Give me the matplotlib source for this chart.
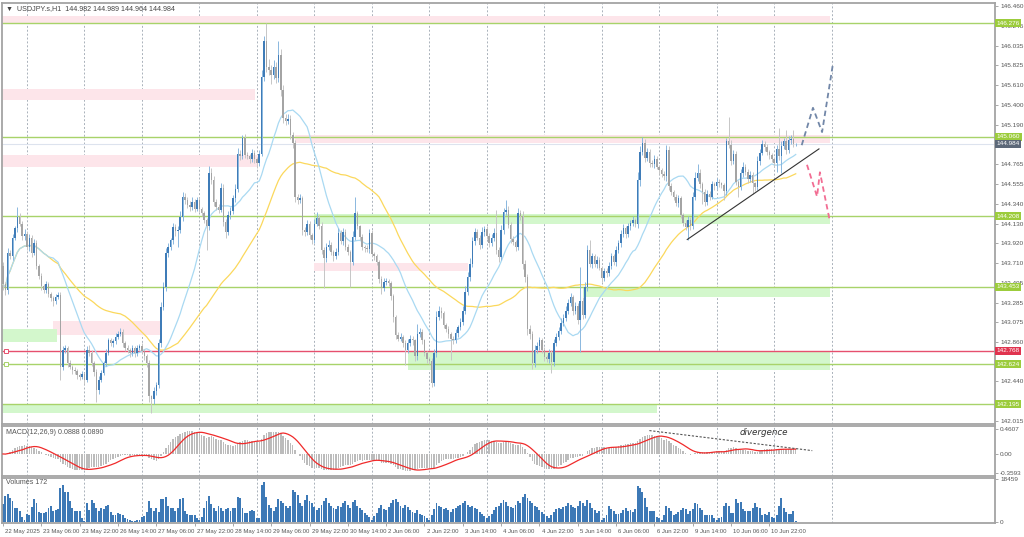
import matplotlib
matplotlib.use("Agg")
import matplotlib.pyplot as plt
import matplotlib.transforms as mtransforms
from matplotlib import font_manager
import numpy as np
import pandas as pd

# USDJPY H1, one value per hourly bar (22 May 14:00 .. 11 Jun 09:00)
first_open = 143.68
closes = [
    143.48, 143.42, 143.82, 143.78, 143.98, 144.08, 144.20, 144.13, 144.00, 144.02, 143.88, 143.98,
    143.82, 143.92, 143.68, 143.57, 143.46, 143.42, 143.48, 143.38, 143.33, 143.30, 143.34, 143.37,
    142.60, 142.78, 142.80, 142.64, 142.60, 142.56, 142.55, 142.51, 142.49, 142.52, 142.46, 142.78,
    142.75, 142.64, 142.54, 142.35, 142.46, 142.53, 142.64, 142.75, 142.88, 142.85, 142.87, 142.92,
    142.95, 142.97, 142.85, 142.80, 142.78, 142.74, 142.80, 142.74, 142.80, 142.82, 142.77, 142.71,
    142.64, 142.28, 142.25, 142.34, 142.40, 142.85, 143.24, 143.45, 143.82, 143.88, 143.95, 144.09,
    144.05, 144.06, 144.20, 144.42, 144.38, 144.33, 144.31, 144.36, 144.29, 144.38, 144.29, 144.24,
    144.17, 144.10, 144.67, 144.60, 144.36, 144.31, 144.28, 144.51, 144.15, 144.04, 144.22, 144.26,
    144.40, 144.50, 144.88, 144.85, 145.05, 144.87, 144.85, 144.82, 144.89, 144.82, 144.78, 144.88,
    145.70, 146.08, 145.81, 145.77, 145.72, 145.81, 145.69, 145.94, 145.56, 145.26, 145.23, 145.25,
    145.08, 144.99, 144.42, 144.38, 144.40, 144.06, 144.04, 144.13, 144.01, 143.96, 144.13, 144.19,
    144.11, 143.85, 143.76, 143.88, 143.90, 143.83, 143.78, 143.83, 144.03, 143.94, 144.04, 143.88,
    143.83, 143.72, 143.99, 144.24, 144.10, 143.99, 143.88, 143.87, 143.86, 144.03, 143.81, 143.78,
    143.72, 143.54, 143.44, 143.51, 143.52, 143.49, 143.35, 143.13, 142.94, 142.90, 142.92, 142.85,
    142.78, 142.85, 142.90, 142.88, 142.71, 142.95, 142.97, 142.88, 142.74, 142.68, 142.66, 142.42,
    142.74, 143.13, 143.20, 143.17, 143.05, 143.00, 142.95, 142.90, 142.88, 142.96, 143.02, 143.08,
    143.20, 143.40, 143.56, 143.70, 143.94, 144.04, 143.98, 143.90, 144.04, 144.07, 144.00, 143.92,
    143.98, 144.03, 143.85, 143.77, 144.06, 144.25, 144.28, 144.12, 143.97, 143.93, 143.88, 144.24,
    144.21, 143.70, 143.56, 143.00, 142.95, 142.64, 142.78, 142.82, 142.88, 142.78, 142.70, 142.68,
    142.75, 142.65, 142.85, 142.92, 142.98, 143.07, 143.12, 143.20, 143.28, 143.34, 143.20, 143.25,
    143.10, 143.30, 143.15, 143.45, 143.85, 143.70, 143.78, 143.70, 143.74, 143.66, 143.55, 143.62,
    143.60, 143.68, 143.78, 143.72, 143.85, 143.92, 144.02, 144.08, 144.02, 144.10, 144.14, 144.17,
    144.13, 144.60, 144.90, 144.99, 144.83, 144.90, 144.78, 144.77, 144.82, 144.74, 144.70, 144.66,
    144.64, 144.92, 144.53, 144.47, 144.42, 144.35, 144.40, 144.22, 144.14, 144.09, 144.17, 144.10,
    144.42, 144.62, 144.67, 144.55, 144.47, 144.36, 144.45, 144.42, 144.55, 144.53, 144.58, 144.56,
    144.54, 144.48, 145.01, 144.97, 144.80, 144.88, 144.58, 144.52, 144.67, 144.74, 144.68, 144.61,
    144.65, 144.56, 144.52, 144.80, 144.89, 144.98, 144.95, 144.90, 144.86, 144.82, 144.78, 144.93,
    144.85, 144.96, 145.01, 144.92, 145.02, 145.04, 144.98, 144.984,
]
# wick lengths above / below the body, in 0.01 yen
wick_up = [
    4, 3, 5, 3, 4, 3, 11, 4, 3, 5, 3, 4,
    3, 5, 3, 2, 3, 2, 4, 3, 2, 3, 4, 3,
    3, 4, 3, 2, 3, 2, 3, 2, 2, 3, 1, 4,
    5, 3, 2, 3, 4, 3, 2, 4, 3, 3, 2, 4,
    3, 4, 3, 2, 3, 2, 3, 2, 3, 2, 3, 2,
    2, 3, 2, 4, 3, 4, 5, 6, 5, 4, 3, 5,
    4, 5, 6, 5, 4, 3, 4, 5, 3, 4, 3, 2,
    3, 2, 8, 6, 4, 3, 3, 5, 4, 3, 4, 5,
    4, 5, 6, 4, 3, 4, 3, 3, 4, 3, 2, 4,
    8, 6, 20, 8, 6, 7, 5, 14, 6, 5, 4, 5,
    4, 3, 4, 3, 5, 3, 3, 4, 3, 2, 5, 6,
    3, 4, 3, 4, 5, 3, 2, 4, 5, 3, 4, 3,
    3, 2, 6, 17, 3, 2, 3, 2, 3, 4, 3, 2,
    3, 2, 3, 4, 3, 2, 3, 3, 2, 3, 4, 2,
    3, 4, 4, 3, 2, 11, 4, 3, 2, 3, 2, 3,
    5, 6, 5, 4, 3, 2, 3, 2, 3, 4, 3, 4,
    5, 6, 5, 6, 5, 4, 3, 3, 5, 4, 3, 3,
    4, 5, 25, 3, 6, 5, 10, 4, 3, 3, 2, 6,
    4, 5, 4, 3, 4, 3, 5, 4, 4, 3, 3, 2,
    4, 3, 5, 4, 4, 5, 4, 5, 4, 5, 3, 4,
    3, 37, 4, 6, 5, 10, 4, 3, 4, 3, 2, 3,
    3, 4, 4, 3, 4, 3, 4, 5, 3, 4, 3, 4,
    2, 8, 6, 7, 5, 4, 3, 3, 4, 3, 2, 3,
    3, 5, 4, 3, 2, 3, 4, 3, 2, 3, 4, 3,
    5, 6, 10, 4, 3, 3, 4, 3, 4, 3, 4, 3,
    2, 3, 4, 26, 5, 4, 3, 2, 4, 5, 3, 3,
    4, 3, 2, 5, 4, 4, 3, 3, 2, 3, 2, 4,
    22, 5, 4, 12, 5, 4, 9, 1,
]
wick_dn = [
    6, 5, 4, 3, 4, 3, 4, 3, 5, 4, 3, 4,
    5, 3, 4, 3, 4, 3, 3, 4, 3, 5, 3, 2,
    14, 4, 3, 5, 3, 4, 3, 4, 3, 2, 5, 3,
    4, 3, 4, 13, 4, 3, 2, 3, 3, 3, 4, 3,
    3, 2, 4, 3, 3, 4, 3, 4, 3, 2, 3, 4,
    4, 6, 15, 5, 4, 3, 4, 3, 4, 5, 3, 4,
    5, 17, 3, 4, 4, 3, 4, 3, 4, 3, 4, 3,
    3, 25, 4, 5, 4, 3, 4, 3, 4, 6, 3, 4,
    3, 4, 3, 4, 3, 4, 3, 4, 3, 4, 5, 3,
    3, 4, 6, 5, 10, 4, 5, 4, 6, 5, 4, 3,
    4, 5, 6, 4, 3, 5, 4, 3, 4, 5, 4, 3,
    4, 5, 32, 4, 3, 4, 5, 3, 4, 3, 4, 3,
    4, 27, 3, 4, 3, 4, 3, 4, 3, 4, 3, 4,
    3, 5, 6, 3, 4, 3, 4, 5, 4, 3, 3, 4,
    16, 4, 3, 5, 5, 4, 3, 4, 3, 4, 3, 4,
    3, 4, 3, 5, 4, 3, 4, 23, 4, 3, 4, 3,
    3, 4, 3, 4, 3, 4, 3, 4, 3, 4, 3, 4,
    3, 4, 4, 5, 3, 4, 3, 4, 5, 3, 4, 3,
    4, 6, 5, 6, 5, 7, 4, 3, 4, 3, 4, 3,
    4, 12, 4, 3, 4, 3, 4, 3, 4, 3, 5, 4,
    4, 34, 4, 3, 4, 3, 4, 3, 4, 3, 4, 3,
    4, 3, 4, 3, 4, 3, 4, 3, 4, 3, 4, 3,
    4, 5, 7, 3, 4, 3, 4, 3, 4, 3, 4, 3,
    4, 5, 4, 3, 4, 3, 4, 3, 4, 3, 13, 4,
    3, 4, 3, 4, 13, 4, 3, 4, 3, 4, 3, 4,
    3, 10, 4, 3, 4, 3, 4, 10, 3, 4, 3, 4,
    3, 11, 4, 3, 4, 3, 4, 3, 4, 3, 4, 10,
    4, 18, 3, 4, 3, 4, 3, 2,
]
volumes = [
    7700, 11200, 12100, 10500, 9100, 6000, 6000, 4600, 2100, 700, 3500, 2800,
    6300, 9800, 8400, 4200, 3800, 3800, 4200, 6000, 7000, 4900, 5200, 5600,
    14900, 16000, 13200, 12900, 9100, 6000, 4600, 4900, 4900, 1800, 400, 8400,
    5200, 9400, 8400, 6000, 4600, 6000, 5600, 7000, 7400, 4200, 3200, 2800,
    3800, 3500, 2800, 1800, 1300, 700, 400, 300, 700, 1000, 2100, 2400,
    4200, 9100, 6000, 4900, 6000, 4200, 9800, 9800, 10800, 7000, 6000, 6000,
    4900, 6000, 9800, 10200, 4600, 3500, 3200, 2800, 2800, 1800, 1000, 2100,
    6000, 9100, 11200, 7900, 6000, 4900, 7000, 6000, 4600, 5600, 6000, 4600,
    6000, 6000, 10800, 10200, 6000, 3800, 3800, 4600, 5200, 4600, 1500, 1800,
    16000, 17200, 10800, 7400, 6000, 4600, 6600, 9800, 9100, 8400, 7000, 6000,
    7000, 13900, 12900, 11500, 8400, 7000, 9500, 11500, 9000, 8000, 6500, 5000,
    6000, 7500, 9000, 10500, 8000, 7000, 6000, 5500, 7000, 6500, 8000, 9000,
    7500, 6000, 8500, 9500, 7000, 6000, 5000, 4000, 3000, 2000, 1000, 2500,
    4000, 6000, 7500, 5500, 5000, 6500, 8000, 9500, 10000, 8500, 7000, 6000,
    7500, 6500, 5000, 4500, 4000, 5000, 3500, 3000, 2500, 1500, 800, 3000,
    5500, 8000, 7000, 6500, 5500, 6000, 5000, 4500, 5500, 6000, 7000, 7500,
    8000, 9000, 7500, 6500, 7000, 6000, 5500, 4500, 3500, 2500, 1500, 2500,
    3500, 5000, 6500, 7000, 8000, 9500, 8500, 7000, 6500, 6000, 7500, 9000,
    8000, 11000, 12000, 10500, 9000, 8000, 7000, 6500, 5000, 4500, 3500, 2500,
    1500, 3000, 4500, 5500, 6000, 5500, 6500, 7000, 8000, 7500, 6500, 6000,
    7000, 9000, 8000, 7000, 9500, 8000, 6000, 5000, 4000, 4900, 700, 1800,
    2800, 7000, 5600, 4900, 3500, 3500, 3800, 5200, 6000, 4900, 5200, 4200,
    5600, 15700, 14600, 13200, 10200, 6600, 4900, 4600, 4900, 2100, 1500, 700,
    3200, 7000, 6000, 4600, 3200, 3500, 4200, 5200, 6000, 5600, 3500, 4900,
    5600, 8400, 7700, 6000, 5200, 2800, 3200, 2800, 3200, 1500, 1000, 1800,
    2100, 7000, 8400, 7000, 3800, 3800, 9800, 8400, 8800, 5600, 4600, 4600,
    4900, 6000, 8400, 6300, 6000, 2800, 3500, 2800, 4200, 2100, 1500, 3200,
    7000, 10200, 6000, 4200, 3500, 3500, 4600, 172,
]

tick_labels = [
    "22 May 2025", "23 May 06:00", "23 May 22:00", "26 May 14:00", "27 May 06:00",
    "27 May 22:00", "28 May 14:00", "29 May 06:00", "29 May 22:00", "30 May 14:00",
    "2 Jun 06:00", "2 Jun 22:00", "3 Jun 14:00", "4 Jun 06:00", "4 Jun 22:00",
    "5 Jun 14:00", "6 Jun 06:00", "6 Jun 22:00", "9 Jun 14:00", "10 Jun 06:00",
    "10 Jun 22:00",
]
price_ticks = [146.460, 146.245, 146.035, 145.825, 145.610, 145.400, 145.190, 144.975,
               144.765, 144.555, 144.340, 144.130, 143.920, 143.710, 143.495, 143.285,
               143.075, 142.860, 142.650, 142.440, 142.225, 142.015]
# these scale labels sit fully under a price tag in the terminal
hidden_ticks = [144.975, 142.650, 142.225]

levels = [146.276, 145.060, 144.208, 143.453, 142.768, 142.624, 142.195]
level_kinds = ["g", "g", "g", "g", "r", "g", "g"]
current_price = 144.984

# drawn zones: bar from, bar to, price low, price high, kind
zone_x0 = [-1, -1, -1, 122, 130, 130, 242, 21, -1, 169, -1]
zone_x1 = [345.3, 105.2, 106.5, 345.3, 345.3, 194, 345.3, 65.6, 22.5, 345.3, 273]
zone_lo = [146.27, 145.45, 144.74, 144.99, 144.13, 143.62, 143.34, 142.94, 142.86, 142.56, 142.10]
zone_hi = [146.35, 145.57, 144.87, 145.08, 144.23, 143.71, 143.45, 143.09, 143.00, 142.76, 142.19]
zone_kind = ["p", "p", "p", "p", "g", "p", "g", "p", "g", "g", "g"]

trend_x = [285.7, 340.7]
trend_y = [143.96, 144.93]
up_path_x = [333.5, 338.2, 342.0, 346.6]
up_path_y = [144.97, 145.37, 145.11, 145.85]
down_path_x = [335.7, 339.9, 341.1, 345.3]
down_path_y = [144.76, 144.42, 144.68, 144.15]
div_x = [269.9, 337.9]
div_y = [0.435, 0.062]

GREEN_LINE = "#a8d36a"
GREEN_TAG = "#9ccc3c"
RED_LINE = "#e6506e"
GRID = "#a9b1ba"
FRAME = "#a4a4a4"


def pick_font():
    # narrow face if the system has it, else a smaller regular face
    try:
        font_manager.findfont("Liberation Sans Narrow", fallback_to_default=False)
        return ["Liberation Sans Narrow", "DejaVu Sans"], 5.2, 5.0
    except ValueError:
        return ["Liberation Sans", "DejaVu Sans"], 4.6, 4.3


FONT, FS, FSX = pick_font()


def style_axis(ax):
    for s in ax.spines.values():
        s.set_color(FRAME)
        s.set_linewidth(1.3)
    ax.yaxis.tick_right()
    ax.tick_params(axis="y", length=2.5, width=0.6, colors="#9a9a9a",
                   labelcolor="#555555", labelsize=FS, pad=1.2)
    ax.tick_params(axis="x", length=0, labelbottom=False)
    ax.set_xlim(-0.4, 414.2)
    for d in range(10, 347, 24):
        ax.axvline(d, color=GRID, lw=0.7, ls=(0, (2, 2)), zorder=0)


def tag(ax, y, text, bg):
    tr = mtransforms.blended_transform_factory(ax.transAxes, ax.transData)
    ax.text(1.0016, y, text, transform=tr, ha="left", va="center", fontsize=FS,
            family=FONT, color="white", zorder=10, clip_on=False,
            bbox=dict(boxstyle="square,pad=0.25", fc=bg, ec=bg, lw=0))


def main():
    n = len(closes)
    x = np.arange(n)
    c = np.array(closes)
    o = np.concatenate([[first_open], c[:-1]])
    hi = np.maximum(o, c) + np.array(wick_up) / 100
    lo = np.minimum(o, c) - np.array(wick_dn) / 100
    bull = c >= o

    s = pd.Series(c)
    ma_fast = s.rolling(20, min_periods=1).mean()
    ma_slow = s.rolling(50, min_periods=1).mean()
    macd = s.ewm(span=12, adjust=False).mean() - s.ewm(span=26, adjust=False).mean()
    signal = macd.rolling(9, min_periods=1).mean()

    fig = plt.figure(figsize=(10.24, 5.37), dpi=100)
    W, H = 1024, 537
    left, right = 2 / W, 995 / W
    ax = fig.add_axes([left, 1 - 424 / H, right - left, 421 / H])
    ax_m = fig.add_axes([left, 1 - 476 / H, right - left, 50 / H])
    ax_v = fig.add_axes([left, 1 - 523 / H, right - left, 45 / H])

    # ---- price panel
    style_axis(ax)
    ax.set_ylim(141.985, 146.492)
    ax.set_yticks(price_ticks)
    ax.set_yticklabels(["" if p in hidden_ticks else f"{p:.3f}" for p in price_ticks],
                       family=FONT)

    for i in range(len(zone_x0)):
        col = "#fde5ea" if zone_kind[i] == "p" else "#d3f7cc"
        ax.fill_between([zone_x0[i], zone_x1[i]], zone_lo[i], zone_hi[i],
                        color=col, lw=0, zorder=1)
    for lv, k in zip(levels, level_kinds):
        ax.axhline(lv, color=RED_LINE if k == "r" else GREEN_LINE, lw=1.0, zorder=2)
        if lv in (142.768, 142.624):
            ax.plot([1.2], [lv], marker="s", ms=2.5, mfc="white",
                    mec=RED_LINE if k == "r" else GREEN_LINE, mew=0.7, zorder=3)
    ax.axhline(current_price, color="#dde3ee", lw=0.8, zorder=2)

    ax.plot(x, ma_slow, color="#fbd85c", lw=0.9, zorder=3)
    ax.plot(x, ma_fast, color="#a9d9f2", lw=0.9, zorder=3)

    ax.vlines(x, lo, hi, colors=np.where(bull, "#8ab7df", "#c6c6c6"), lw=0.7, zorder=4)
    body = np.maximum(np.abs(c - o), 0.006)
    ax.bar(x, body, bottom=np.minimum(o, c), width=0.62,
           color=np.where(bull, "#3f7cb8", "#a4a4a4"), lw=0, zorder=5)

    ax.plot(trend_x, trend_y, color="#333333", lw=0.8, zorder=6)
    ax.plot(up_path_x, up_path_y, color="#7287a8", lw=1.3, ls=(0, (3, 2)), zorder=6)
    ax.plot(down_path_x, down_path_y, color="#f26d93", lw=1.3, ls=(0, (3, 2)), zorder=6)

    for lv, k in zip(levels, level_kinds):
        tag(ax, lv, f"{lv:.3f}", "#e0334f" if k == "r" else GREEN_TAG)
    tag(ax, current_price, f"{current_price:.3f}", "#5c6878")

    ax.text(0.004, 0.986, "\u25bc  USDJPY.s,H1  144.982 144.989 144.964 144.984",
            transform=ax.transAxes, fontsize=FS + 0.5, family=FONT, color="#444444",
            va="center", ha="left", zorder=10)

    # ---- MACD panel
    style_axis(ax_m)
    ax_m.set_ylim(-0.41, 0.52)
    ax_m.set_yticks([0.4607, 0.0, -0.3593])
    ax_m.set_yticklabels(["0.4607", "0.00", "-0.3593"], family=FONT)
    ax_m.bar(x, macd, width=0.6, color="#bcbcbc", lw=0, zorder=2)
    ax_m.plot(x, signal, color="#f02a2a", lw=0.9, zorder=3)
    ax_m.plot(div_x, div_y, color="#555555", lw=0.8, ls=(0, (2, 1.5)), zorder=4)
    ax_m.text(307.5, 0.40, "divergence", fontsize=6.3, style="italic",
              color="#333333", ha="left", va="center", zorder=5)
    ax_m.text(0.004, 0.86, "MACD(12,26,9) 0.0888 0.0890", transform=ax_m.transAxes,
              fontsize=FS + 0.5, family=FONT, color="#555555", va="center", ha="left")

    # ---- volume panel
    style_axis(ax_v)
    ax_v.set_ylim(-500, 19100)
    ax_v.set_yticks([18459, 0])
    ax_v.set_yticklabels(["18459", "0"], family=FONT)
    ax_v.bar(x, volumes, width=0.8, color="#3d79b6", lw=0, zorder=2)
    ax_v.text(0.004, 0.9, "Volumes 172", transform=ax_v.transAxes,
              fontsize=FS + 0.5, family=FONT, color="#555555", va="center", ha="left")

    tick_pos = [16 * i for i in range(len(tick_labels))]
    ax_v.set_xticks(tick_pos)
    ax_v.set_xticklabels(tick_labels, family=FONT)
    ax_v.tick_params(axis="x", length=2.5, width=0.6, colors="#9a9a9a",
                     labelcolor="#555555", labelsize=FSX, pad=1.5, labelbottom=True)
    offset = mtransforms.ScaledTranslation(1.5 / 72, 0, fig.dpi_scale_trans)
    for lab in ax_v.get_xticklabels():
        lab.set_horizontalalignment("left")
        lab.set_transform(lab.get_transform() + offset)

    fig.savefig("out.png", dpi=100, facecolor="white")


if __name__ == "__main__":
    main()
